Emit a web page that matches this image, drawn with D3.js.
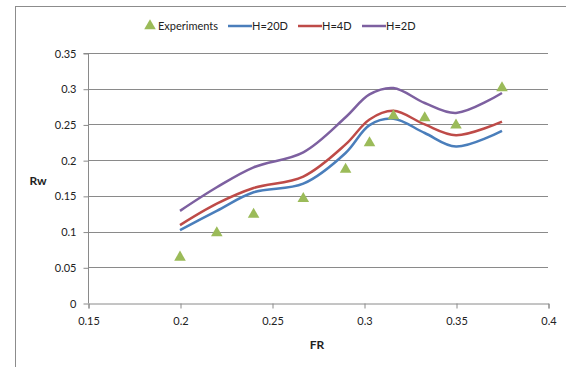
<!DOCTYPE html>
<html>
<head>
<meta charset="utf-8">
<script src="https://cdn.jsdelivr.net/npm/d3@7"></script>
<style>
  body { margin: 0; background: #fff; }
  svg text { font-family: Lato, "Open Sans", sans-serif; fill: #222; }
</style>
</head>
<body>
<svg id="chart"></svg>
<script>
const width = 566, height = 367
const margin = {top: 53, right: 18, bottom: 64, left: 88}

// data
const fr = [0.2, 0.22, 0.24, 0.267, 0.29, 0.303, 0.316, 0.333, 0.35, 0.375]
const experiments = [0.064, 0.098, 0.124, 0.146, 0.187, 0.224, 0.262, 0.259, 0.249, 0.301]
const h20D = [0.102, 0.129, 0.155, 0.167, 0.21, 0.249, 0.258, 0.238, 0.219, 0.241]
const h4D = [0.109, 0.139, 0.161, 0.177, 0.222, 0.257, 0.269, 0.25, 0.235, 0.254]
const h2D = [0.129, 0.162, 0.19, 0.211, 0.26, 0.292, 0.301, 0.28, 0.266, 0.294]
const xTicks = [0.15, 0.2, 0.25, 0.3, 0.35, 0.4]
const yTicks = [0, 0.05, 0.1, 0.15, 0.2, 0.25, 0.3, 0.35]

const series = [
    {name: "H=20D", values: h20D, color: "#4a7ebb"},
    {name: "H=4D", values: h4D, color: "#be4b48"},
    {name: "H=2D", values: h2D, color: "#7d60a0"},
]
const markerColor = "#9bbb59"

const svg = d3.select("svg#chart")
    .attr("viewBox", [0, 0, width, height])
    .attr("width", width)
    .attr("height", height)

// outer chart frame (runs off the right and bottom edge)
svg.append("rect")
    .attr("x", 15.5).attr("y", 6.5)
    .attr("width", 600).attr("height", 400)
    .attr("fill", "none")
    .attr("stroke", "#8c8c8c")

const xScale = d3.scaleLinear()
    .domain([0.15, 0.4])
    .range([margin.left, width - margin.right])

const yScale = d3.scaleLinear()
    .domain([0, 0.35])
    .range([height - margin.bottom, margin.top])

// H grid lines
svg.append("g").classed("h-grid", true)
    .selectAll("line")
    .data(yTicks.slice(1))
    .enter()
    .append("line")
    .attr("x1", margin.left)
    .attr("x2", width - margin.right)
    .attr("y1", d => Math.round(yScale(d)) + 0.5)
    .attr("y2", d => Math.round(yScale(d)) + 0.5)
    .attr("stroke", "#8a8a8a")

// Y axis
const yAxis = svg.append("g").classed("y-axis", true)
    .attr("transform", `translate(${margin.left + 0.5}, 0.5)`)
    .call(d3.axisLeft(yScale).tickValues(yTicks).tickFormat(d => d).tickSize(5).tickPadding(7))
yAxis.selectAll("path, line").attr("stroke", "#8a8a8a")
yAxis.select("path").attr("d", `M-5,${yScale(0.35)}H0V${yScale(0)}`)
yAxis.selectAll("text").attr("font-size", 11).style("fill", "#222")

// X axis
const xAxis = svg.append("g").classed("x-axis", true)
    .attr("transform", `translate(0.5, ${height - margin.bottom + 0.5})`)
    .call(d3.axisBottom(xScale).tickValues(xTicks).tickFormat(d => d).tickSize(5).tickPadding(9))
xAxis.selectAll("path, line").attr("stroke", "#8a8a8a")
xAxis.selectAll("text").attr("font-size", 11).style("fill", "#222")

// axis titles
svg.append("text")
    .attr("x", 38).attr("y", 185)
    .attr("text-anchor", "middle")
    .attr("font-size", 12).attr("font-weight", "bold")
    .text("Rw")

svg.append("text")
    .attr("x", 317).attr("y", 349)
    .attr("text-anchor", "middle")
    .attr("font-size", 12).attr("font-weight", "bold")
    .text("FR")

// smoothed lines
const line = d3.line()
    .x((d, i) => xScale(fr[i]))
    .y(d => yScale(d))
    .curve(d3.curveCatmullRom.alpha(0.5))

svg.append("g").classed("lines", true)
    .selectAll("path")
    .data(series)
    .enter()
    .append("path")
    .attr("d", d => line(d.values))
    .attr("fill", "none")
    .attr("stroke", d => d.color)
    .attr("stroke-width", 2.5)

// experiment markers
const tri = d3.symbol().type(d3.symbolTriangle).size(58)
svg.append("g").classed("markers", true)
    .selectAll("path")
    .data(experiments)
    .enter()
    .append("path")
    .attr("transform", (d, i) => `translate(${xScale(fr[i])}, ${yScale(d)})`)
    .attr("d", tri)
    .attr("fill", markerColor)

// legend
const legend = svg.append("g").classed("legend", true)
    .attr("transform", "translate(0, 26)")

legend.append("path")
    .attr("transform", "translate(150, 0)")
    .attr("d", tri)
    .attr("fill", markerColor)
legend.append("text")
    .attr("x", 158).attr("y", 4)
    .attr("font-size", 11)
    .text("Experiments")

const legendX = [228, 298, 362]
series.forEach((s, i) => {
    legend.append("line")
        .attr("x1", legendX[i]).attr("x2", legendX[i] + 24)
        .attr("y1", 0).attr("y2", 0)
        .attr("stroke", s.color)
        .attr("stroke-width", 2.5)
    legend.append("text")
        .attr("x", legendX[i] + 24).attr("y", 4)
        .attr("font-size", 11)
        .text(s.name)
})
</script>
</body>
</html>
